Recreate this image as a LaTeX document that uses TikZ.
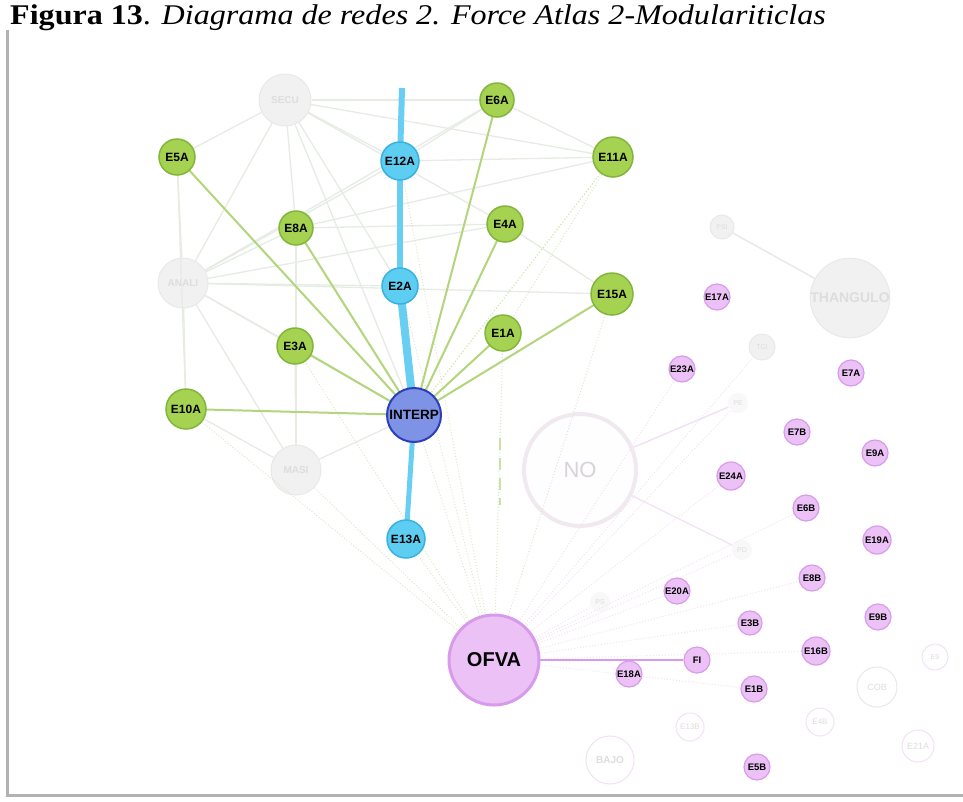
\documentclass[tikz,border=0pt]{standalone}
\usepackage{fontspec}
\setmainfont{Liberation Serif}
\setsansfont{Liberation Sans}
\begin{document}
\begin{tikzpicture}[x=1pt,y=-1pt,
  lbl/.style={font=\sffamily\bfseries\fontsize{12}{12}\selectfont, text=black, inner sep=0pt},
  gnode/.style={circle, fill=gfill, draw=gdraw, line width=1.5pt, minimum size=#1, lbl},
  bnode/.style={circle, fill=bfill, draw=bdraw, line width=1.5pt, minimum size=#1, lbl},
  pnode/.style={circle, fill=pfill, draw=pdraw, line width=1.2pt, minimum size=#1, lbl, font=\sffamily\bfseries\fontsize{9.5}{10}\selectfont},
  fnode/.style={circle, fill=ffill, draw=fdraw, line width=1pt, minimum size=#1, lbl, text=ftext},
  gedge/.style={gline, line width=2pt},
  fedge/.style={faint, line width=1.3pt},
  dedge/.style={dotline, line width=1pt, dotted},
  pedge/.style={pdot, line width=1pt, dotted},
]
\definecolor{gfill}{HTML}{A6D252}
\definecolor{gdraw}{HTML}{82B53C}
\definecolor{bfill}{HTML}{5ECDF2}
\definecolor{bdraw}{HTML}{3AB2DF}
\definecolor{ifill}{HTML}{7F93E6}
\definecolor{idraw}{HTML}{2B3FB8}
\definecolor{pfill}{HTML}{ECC2F6}
\definecolor{pdraw}{HTML}{D89BEB}
\definecolor{ffill}{HTML}{F1F1F1}
\definecolor{fdraw}{HTML}{E9E9E9}
\definecolor{ftext}{HTML}{DDDDDD}
\definecolor{gline}{HTML}{B3D57C}
\definecolor{faint}{HTML}{E6ECE3}
\definecolor{dotline}{HTML}{DDE8C8}
\definecolor{pdot}{HTML}{F2E2F5}
\definecolor{bline}{HTML}{68CFF2}
\definecolor{nodraw}{HTML}{F0EAF0}
\useasboundingbox (0,0) rectangle (963,801);
\fill[white] (0,0) rectangle (963,801);

% title
\node[anchor=base west, inner sep=0pt, font=\fontsize{31}{34}\selectfont] (title) at (10,24)
  {\scalebox{1.035}[0.92]{\textbf{Figura 13}. \textit{Diagrama de redes 2. Force Atlas 2-Modulariticlas}}};

% frame
\draw[gray!60, line width=3pt] (7,30) -- (7,795) -- (963,795);

\coordinate (top) at (402,88);

% faded nodes
\node[fnode=52pt, font=\sffamily\bfseries\fontsize{10}{10}\selectfont] (SECU) at (285,100) {SECU};
\node[fnode=50pt, font=\sffamily\bfseries\fontsize{10}{10}\selectfont] (ANALI) at (183,283) {ANALI};
\node[fnode=50pt, font=\sffamily\bfseries\fontsize{10}{10}\selectfont] (MASI) at (296,470) {MASI};
\node[circle, fill=white!97!pfill, draw=nodraw, line width=4pt, minimum size=112pt, font=\sffamily\fontsize{22}{22}\selectfont, text=nodraw!90!black] (NO) at (580,470) {NO};
\node[fnode=74pt, font=\sffamily\bfseries\fontsize{14}{14}\selectfont] (TRI) at (850,298) {THANGULO};
\node[fnode=24pt, font=\sffamily\fontsize{7}{7}\selectfont] (PSI) at (722,227) {PSI};
\node[fnode=26pt, font=\sffamily\fontsize{7}{7}\selectfont] (TCI) at (762,347) {TCI};
\node[fnode=20pt, draw=none, fill=ffill!50, font=\sffamily\fontsize{7}{7}\selectfont] (PE) at (738,403) {PE};
\node[fnode=20pt, draw=none, fill=ffill!50, font=\sffamily\fontsize{7}{7}\selectfont] (PD) at (742,550) {PD};
\node[fnode=20pt, draw=none, fill=ffill!50, font=\sffamily\fontsize{7}{7}\selectfont] (PS) at (600,602) {PS};
\node[fnode=48pt, fill=white, draw=pdot, font=\sffamily\bfseries\fontsize{10}{10}\selectfont] (BAJO) at (610,760) {BAJO};
\node[fnode=28pt, fill=white, draw=pdot, font=\sffamily\fontsize{8}{8}\selectfont] (E13B) at (690,727) {E13B};
\node[fnode=28pt, fill=white, draw=pdot, font=\sffamily\fontsize{8}{8}\selectfont] (E4B) at (820,722) {E4B};
\node[fnode=40pt, fill=white, draw=fdraw, font=\sffamily\fontsize{9}{9}\selectfont] (COB) at (877,687) {COB};
\node[fnode=26pt, fill=white, draw=pdot, font=\sffamily\fontsize{7}{7}\selectfont] (E9x) at (935,657) {E9};
\node[fnode=32pt, fill=white, draw=pdot, font=\sffamily\fontsize{9}{9}\selectfont] (E21A) at (918,746) {E21A};

% positions
\path (497,100) coordinate (pE6A) (177,157) coordinate (pE5A) (400,161) coordinate (pE12A)
      (613,157) coordinate (pE11A) (296,228) coordinate (pE8A) (505,224) coordinate (pE4A)
      (400,286) coordinate (pE2A) (612,294) coordinate (pE15A) (503,333) coordinate (pE1A)
      (295,346) coordinate (pE3A) (186,409) coordinate (pE10A) (414,415) coordinate (pINT)
      (406,539) coordinate (pE13A) (494,660) coordinate (pOFVA)
      (677,591) coordinate (pE20A) (750,623) coordinate (pE3B) (812,578) coordinate (pE8B)
      (806,508) coordinate (pE6B) (731,476) coordinate (pE24A) (682,369) coordinate (pE23A)
      (754,689) coordinate (pE1B) (816,651) coordinate (pE16B);

% faint grey network
\foreach \a/\b in {SECU/pE5A,SECU/pE12A,SECU/pE8A,SECU/pE6A,SECU/pE11A,SECU/ANALI,SECU/pE2A,SECU/pINT,
  SECU/pE4A,ANALI/pE5A,ANALI/pE8A,ANALI/pE12A,ANALI/pE2A,ANALI/pE15A,ANALI/pE10A,ANALI/pE3A,ANALI/MASI,
  ANALI/pE4A,ANALI/pE6A,ANALI/pINT,MASI/pE3A,MASI/pE10A,MASI/pINT,MASI/pE8A,pE5A/pE10A,pE8A/pE11A,pE6A/pE11A,
  pE8A/pE4A,pE12A/pE11A,pE4A/pE15A,pE3A/pINT,pE6A/pE12A}
  \draw[fedge] (\a) -- (\b);
\draw[fdraw, line width=1.5pt] (PSI) -- (TRI);
\draw[pdot, line width=1.5pt] (NO) -- (PE);
\draw[pdot, line width=1.2pt] (NO) -- (PD);

% dotted lines
\foreach \a/\b in {pINT/pOFVA,pE13A/pOFVA,pE2A/pOFVA,pE12A/pOFVA,pE10A/pOFVA,pE3A/pOFVA,MASI/pOFVA,
  pE1A/pOFVA,pE15A/pOFVA,pE11A/pE1A}
  \draw[dedge] (\a) -- (\b);
\foreach \b in {TCI,PE,PD,PS,pE20A,pE3B,pE8B,pE6B,pE24A,pE23A,pE1B,pE16B}
  \draw[pedge] (pOFVA) -- (\b);
\draw[gline!70, dash pattern=on 12pt off 8pt, line width=1.5pt] (500,438) -- (500,505);

% green edges to INTERP
\foreach \b in {pE5A,pE8A,pE3A,pE10A,pE6A,pE4A,pE15A,pE1A}
  \draw[gedge] (pINT) -- (\b);
\draw[gline!60, line width=1.2pt, dotted] (pINT) -- (pE11A);

% thick blue spine
\draw[bline, line width=6pt] (top) -- (pE12A);
\draw[bline, line width=6pt] (pE12A) -- (pE2A);
\draw[bline, line width=8pt] (pE2A) -- (pINT);
\draw[bline, line width=5pt] (pINT) -- (pE13A);

% green nodes
\node[gnode=34pt] (E6A) at (pE6A) {E6A};
\node[gnode=36pt] (E5A) at (pE5A) {E5A};
\node[gnode=40pt] (E11A) at (pE11A) {E11A};
\node[gnode=34pt] (E8A) at (pE8A) {E8A};
\node[gnode=36pt] (E4A) at (pE4A) {E4A};
\node[gnode=42pt] (E15A) at (pE15A) {E15A};
\node[gnode=36pt] (E1A) at (pE1A) {E1A};
\node[gnode=36pt] (E3A) at (pE3A) {E3A};
\node[gnode=40pt] (E10A) at (pE10A) {E10A};
% blue nodes
\node[bnode=38pt] (E12A) at (pE12A) {E12A};
\node[bnode=36pt] (E2A) at (pE2A) {E2A};
\node[bnode=38pt] (E13A) at (pE13A) {E13A};
\node[circle, fill=ifill, draw=idraw, line width=2pt, minimum size=54pt, lbl, font=\sffamily\bfseries\fontsize{13.5}{14}\selectfont] (INTERP) at (pINT) {INTERP};

% purple nodes
\node[pnode=26pt] (E17A) at (717,297) {E17A};
\node[pnode=26pt] (E23A) at (pE23A) {E23A};
\node[pnode=26pt] (E7A) at (851,373) {E7A};
\node[pnode=26pt] (E7B) at (797,432) {E7B};
\node[pnode=26pt] (E9A) at (875,453) {E9A};
\node[pnode=28pt] (E24A) at (pE24A) {E24A};
\node[pnode=26pt] (E6B) at (pE6B) {E6B};
\node[pnode=28pt] (E19A) at (877,540) {E19A};
\node[pnode=26pt] (E8B) at (pE8B) {E8B};
\node[pnode=26pt] (E20A) at (pE20A) {E20A};
\node[pnode=24pt] (E3B) at (pE3B) {E3B};
\node[pnode=26pt] (E9B) at (878,617) {E9B};
\node[pnode=28pt] (E16B) at (pE16B) {E16B};
\node[pnode=26pt] (E1B) at (pE1B) {E1B};
\node[pnode=26pt] (E5B) at (757,767) {E5B};
\node[pnode=26pt] (E18A) at (629,674) {E18A};
\node[pnode=26pt] (FI) at (697,660) {FI};

% OFVA
\draw[pdraw, line width=2pt] (pOFVA) -- (FI);
\node[circle, fill=pfill, draw=pdraw, line width=3pt, minimum size=90pt, lbl, font=\sffamily\bfseries\fontsize{20}{20}\selectfont] (OFVA) at (pOFVA) {OFVA};
\end{tikzpicture}
\end{document}
